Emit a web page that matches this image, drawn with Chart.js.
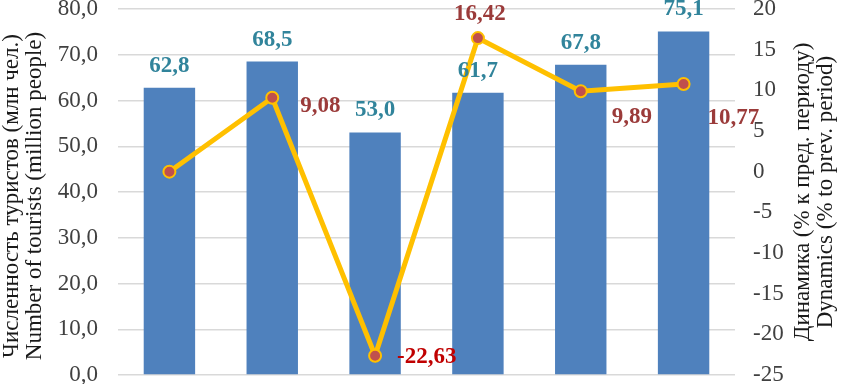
<!DOCTYPE html>
<html><head><meta charset="utf-8">
<script src="https://cdn.jsdelivr.net/npm/chart.js@4.4.1/dist/chart.umd.min.js"></script>
<style>html,body{margin:0;padding:0;background:#fff;overflow:hidden;}</style>
</head><body>
<canvas id="c" width="848" height="384" style="width:848px;height:384px;display:block"></canvas>
<script>
// ---- data ----
const categories = ['1', '2', '3', '4', '5', '6'];
const touristsMln = [62.8, 68.5, 53.0, 61.7, 67.8, 75.1];
const dynamicsPct = [0, 9.08, -22.63, 16.42, 9.89, 10.77];
const leftTitle = ['Численность туристов (млн чел.)', 'Number of tourists (million people)'];
const rightTitle = ['Динамика (% к пред. периоду)', 'Dynamics (% to prev. period)'];

// ---- label styling (not data) ----
const lineLabelStyle = [
  null,
  {align: 'left', dx: 28, dy: 8, color: '#9B3B3A'},
  {align: 'left', dx: 22, dy: 1, color: '#C00000'},
  {align: 'center', dx: 2, dy: -24, color: '#9B3B3A'},
  {align: 'left', dx: 31, dy: 26, color: '#9B3B3A'},
  {align: 'left', dx: 24, dy: 34, color: '#9B3B3A'}
];

const SERIF = '"Liberation Serif", "Times New Roman", serif';
const fmt = (v, d) => v.toFixed(d).replace('.', ',');

const labelPlugin = {
  id: 'valueLabels',
  afterDatasetsDraw(chart) {
    const ctx = chart.ctx;
    ctx.save();
    ctx.font = 'bold 23px ' + SERIF;
    ctx.textBaseline = 'middle';
    const barMeta = chart.getDatasetMeta(1);
    ctx.fillStyle = '#31849B';
    ctx.textAlign = 'center';
    barMeta.data.forEach((el, i) => {
      ctx.fillText(fmt(touristsMln[i], 1), el.x, el.y - 22);
    });
    const lineMeta = chart.getDatasetMeta(0);
    lineMeta.data.forEach((el, i) => {
      const s = lineLabelStyle[i];
      if (!s) return;
      ctx.fillStyle = s.color;
      ctx.textAlign = s.align;
      ctx.fillText(fmt(dynamicsPct[i], 2), el.x + s.dx, el.y + s.dy);
    });
    ctx.restore();
  },
  afterDraw(chart) {
    const ctx = chart.ctx;
    const a = chart.chartArea;
    const cy = (a.top + a.bottom) / 2;
    ctx.save();
    ctx.font = '23px ' + SERIF;
    ctx.fillStyle = '#1a1a1a';
    ctx.textAlign = 'center';
    ctx.textBaseline = 'middle';
    const drawRot = (lines, xs, y) => {
      lines.forEach((t, i) => {
        ctx.save();
        ctx.translate(xs[i], y);
        ctx.rotate(-Math.PI / 2);
        ctx.fillText(t, 0, 0);
        ctx.restore();
      });
    };
    drawRot(leftTitle, [12, 35], cy + 4);
    drawRot(rightTitle, [803, 826], cy);
    ctx.restore();
  }
};

new Chart(document.getElementById('c'), {
  type: 'bar',
  data: {
    labels: categories,
    datasets: [
      {
        type: 'line',
        data: dynamicsPct,
        yAxisID: 'y2',
        order: 0,
        borderColor: '#FFC000',
        borderWidth: 5,
        pointRadius: 6,
        pointBackgroundColor: '#C0504D',
        pointBorderColor: '#FFC000',
        pointBorderWidth: 2,
        tension: 0,
        fill: false
      },
      {
        type: 'bar',
        data: touristsMln,
        yAxisID: 'y',
        order: 1,
        backgroundColor: '#4F81BD',
        categoryPercentage: 1.0,
        barPercentage: 0.5
      }
    ]
  },
  options: {
    responsive: false,
    animation: false,
    devicePixelRatio: 1,
    layout: {padding: {top: 9, bottom: 9, left: 0, right: 0}},
    plugins: {legend: {display: false}, tooltip: {enabled: false}},
    scales: {
      x: {
        display: true,
        ticks: {display: false},
        grid: {display: false, drawTicks: false},
        border: {display: false},
        afterFit(s) { s.height = 0; s.paddingLeft = 0; s.paddingRight = 0; }
      },
      y: {
        position: 'left',
        min: 0, max: 80,
        ticks: {
          stepSize: 10,
          padding: 20,
          color: '#404040',
          font: {family: SERIF, size: 23},
          callback: v => fmt(v, 1)
        },
        grid: {color: '#D9D9D9', lineWidth: 1.5, drawTicks: false},
        border: {display: false},
        afterFit(s) { s.width = 118; s.paddingTop = 0; s.paddingBottom = 0; }
      },
      y2: {
        position: 'right',
        min: -25, max: 20,
        ticks: {
          stepSize: 5,
          padding: 18,
          color: '#404040',
          font: {family: SERIF, size: 23},
          callback: v => String(v)
        },
        grid: {display: false, drawTicks: false},
        border: {display: false},
        afterFit(s) { s.width = 113; s.paddingTop = 0; s.paddingBottom = 0; }
      }
    }
  },
  plugins: [labelPlugin]
});
</script>
</body></html>
